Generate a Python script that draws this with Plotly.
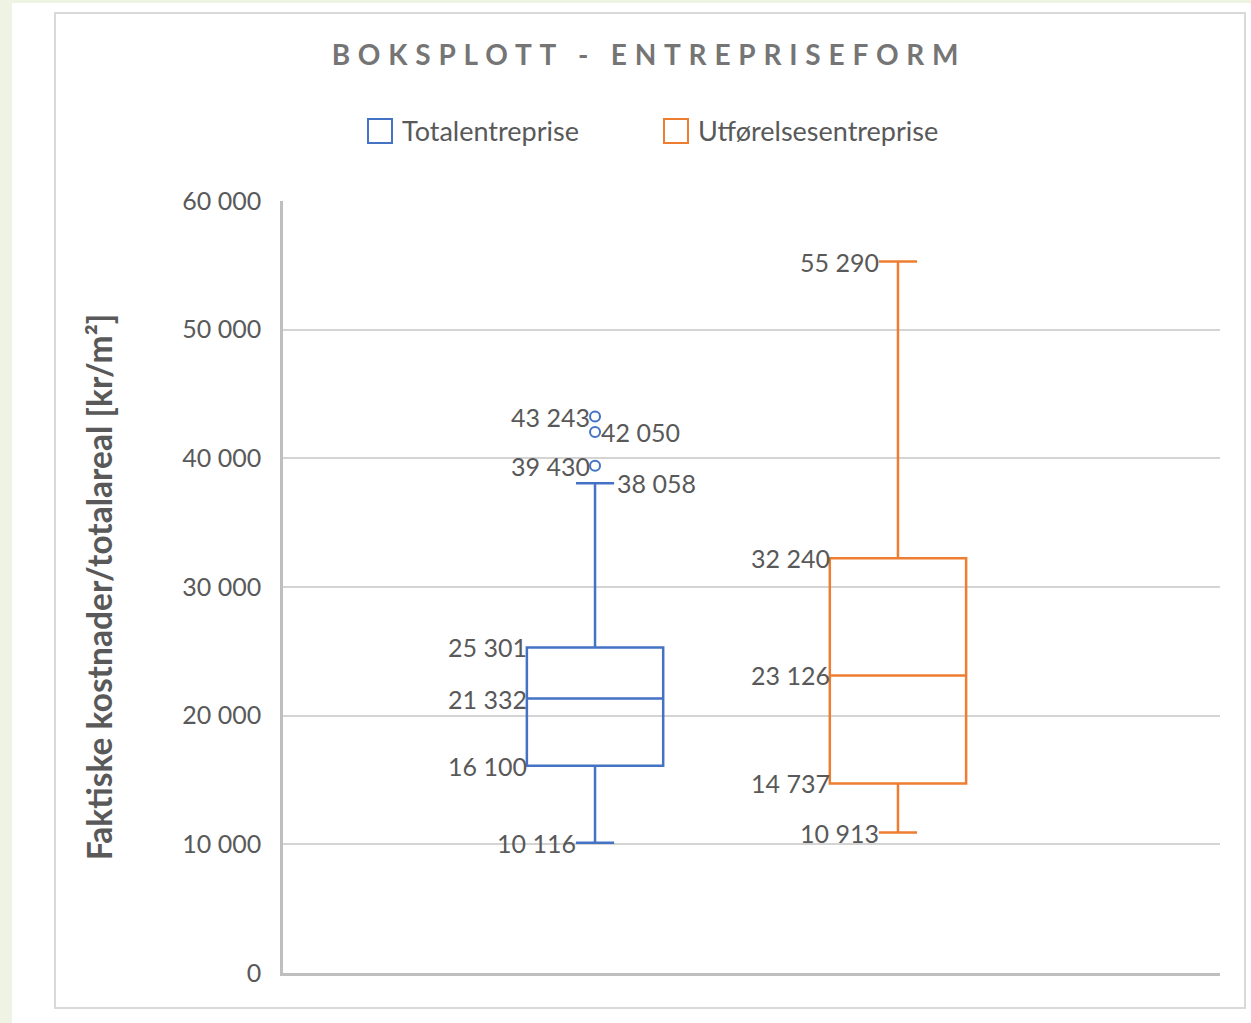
import plotly.graph_objects as go

# ---- data ----
series_names = ["Totalentreprise", "Utførelsesentreprise"]
series_colors = ["#4472C4", "#ED7D31"]
lower_fence = [10116, 10913]
q1_vals = [16100, 14737]
median_vals = [21332, 23126]
q3_vals = [25301, 32240]
upper_fence = [38058, 55290]
outliers_total = [43243, 42050, 39430]
outlier_label_side = ["left", "right", "left"]
y_ticks = [0, 10000, 20000, 30000, 40000, 50000, 60000]

W, H = 1251, 1023
L, R, T, B = 283, 1220, 201, 973  # plot area in pixels


def fmt(v):
    return f"{v:,}".replace(",", " ")


def px(xp):
    return (xp - L) / (R - L)


def py(yp):
    return (B - yp) / (B - T)


fig = go.Figure()

for i, name in enumerate(series_names):
    fig.add_trace(go.Box(
        x=[name], q1=[q1_vals[i]], median=[median_vals[i]], q3=[q3_vals[i]],
        lowerfence=[lower_fence[i]], upperfence=[upper_fence[i]],
        name=name, boxpoints=False, width=0.45, whiskerwidth=0.28,
        fillcolor="rgba(0,0,0,0)", line=dict(color=series_colors[i], width=2.5),
        showlegend=False, hoverinfo="y",
    ))

fig.add_trace(go.Scatter(
    x=[series_names[0]] * len(outliers_total), y=outliers_total, mode="markers",
    marker=dict(symbol="circle-open", size=10, color=series_colors[0],
                line=dict(width=2, color=series_colors[0])),
    showlegend=False, hoverinfo="y",
))

ann_font = dict(family="Lato", size=25, color="#595959")
annotations = []
for i, name in enumerate(series_names):
    for v in (q1_vals[i], median_vals[i], q3_vals[i]):
        annotations.append(dict(x=name, y=v, xref="x", yref="y", text=fmt(v),
                                showarrow=False, xanchor="right", yanchor="middle",
                                xshift=-66, font=ann_font))
    annotations.append(dict(x=name, y=lower_fence[i], xref="x", yref="y",
                            text=fmt(lower_fence[i]), showarrow=False,
                            xanchor="right", yanchor="middle", xshift=-17, font=ann_font))
# upper fence labels
annotations.append(dict(x=series_names[0], y=upper_fence[0], xref="x", yref="y",
                        text=fmt(upper_fence[0]), showarrow=False, xanchor="left",
                        yanchor="middle", xshift=20, font=ann_font))
annotations.append(dict(x=series_names[1], y=upper_fence[1], xref="x", yref="y",
                        text=fmt(upper_fence[1]), showarrow=False, xanchor="right",
                        yanchor="middle", xshift=-17, font=ann_font))
for v, side in zip(outliers_total, outlier_label_side):
    annotations.append(dict(x=series_names[0], y=v, xref="x", yref="y", text=fmt(v),
                            showarrow=False, xanchor="right" if side == "left" else "left",
                            yanchor="middle", xshift=-3 if side == "left" else 4,
                            font=ann_font))

# manual legend
legend_sq_x = [368, 664]
for i, name in enumerate(series_names):
    annotations.append(dict(x=px(legend_sq_x[i] + 32), y=py(131), xref="paper", yref="paper",
                            text=name, showarrow=False, xanchor="left", yanchor="middle",
                            font=dict(family="Lato", size=27, color="#595959")))

shapes = [
    # green page strips
    dict(type="rect", xref="paper", yref="paper", x0=px(0), x1=px(12), y0=py(H), y1=py(0),
         fillcolor="#eff3e3", line=dict(width=0), layer="below"),
    dict(type="rect", xref="paper", yref="paper", x0=px(0), x1=px(W), y0=py(3), y1=py(0),
         fillcolor="#eff3e3", line=dict(width=0), layer="below"),
    # chart frame
    dict(type="rect", xref="paper", yref="paper", x0=px(55), x1=px(1245), y0=py(1008), y1=py(13),
         fillcolor="rgba(0,0,0,0)", line=dict(color="#d9d9d9", width=2), layer="below"),
]
for i in range(2):
    shapes.append(dict(type="rect", xref="paper", yref="paper",
                       x0=px(legend_sq_x[i]), x1=px(legend_sq_x[i] + 24),
                       y0=py(143), y1=py(119), fillcolor="rgba(0,0,0,0)",
                       line=dict(color=series_colors[i], width=2)))

fig.update_layout(
    width=W, height=H,
    margin=dict(l=L, r=W - R, t=T, b=H - B, autoexpand=False),
    paper_bgcolor="white", plot_bgcolor="white",
    separators=", ",
    font=dict(family="Lato", color="#595959"),
    title=dict(text='<span style="letter-spacing:7.8px">BOKSPLOTT - ENTREPRISEFORM</span>',
               x=649 / W, y=1 - 55 / H, xref="container", yref="container",
               xanchor="center", yanchor="middle",
               font=dict(family="Lato", size=28, color="#757575", weight="bold")),
    showlegend=False,
    annotations=annotations,
    shapes=shapes,
    xaxis=dict(type="category", categoryorder="array", categoryarray=series_names,
               range=[-1.03, 2.063], showticklabels=False, showgrid=False,
               zeroline=False, showline=True, linecolor="#bfbfbf", linewidth=2.5,
               ticks=""),
    yaxis=dict(range=[0, 60000], tickvals=y_ticks, tickformat=",d",
               showgrid=True, gridcolor="#d4d4d4", gridwidth=1.5, zeroline=False,
               showline=True, linecolor="#bfbfbf", linewidth=2.5,
               ticks="", ticklabelstandoff=14,
               tickfont=dict(family="Lato", size=25, color="#595959"),
               title=dict(text="Faktiske kostnader/totalareal [kr/m²]", standoff=60,
                          font=dict(family="Lato", size=33.5, color="#595959", weight="bold"))),
)

fig.write_html("out.html", config={"displayModeBar": False},
               post_script="document.body.style.margin='0';")
